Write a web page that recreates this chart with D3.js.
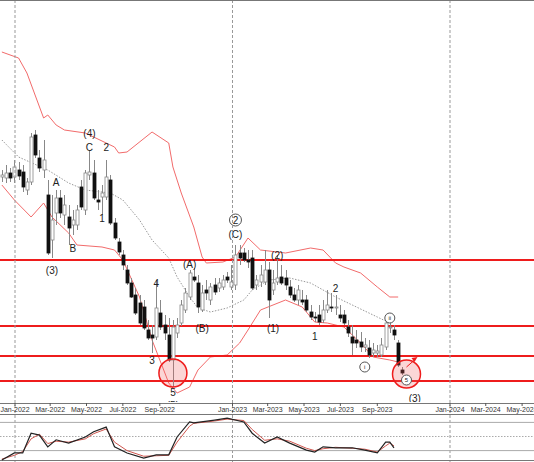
<!DOCTYPE html>
<html>
<head>
<meta charset="utf-8">
<script src="https://cdn.jsdelivr.net/npm/d3@7"></script>
<style>
body { margin: 0; background: #fff; }
text { font-family: "Liberation Sans", Arial, sans-serif; }
</style>
</head>
<body>
<div id="chart"></div>
<script>
// weekly candles [open, high, low, close], first bar dated 2021-12-10
var candles = [
	[111.5,115,109,112.5],[111,117.5,108.5,113.5],[113.5,116,109,111],[111.5,120,108.5,116.5],
	[115,119,110,112],[114,117.5,104,106.5],[105,111,102.5,109],[109,133.5,107.5,131.5],
	[132.5,135,121,122.5],[121,125,114,116],[115,130,111,120],[102.5,110,72.5,73.5],
	[80,102.5,71,90],[93.5,105,87.5,101],[101,105,91,93.5],[92.5,102.5,87.5,97.5],
	[91.5,97.5,77.5,86],[87.5,95,82.5,90],[87.5,97.5,85,95],[106.5,110,95,96.5],
	[95,115,92.5,113.5],[112.5,125,110,114],[113.5,120,100,101],[100,105,95,99],
	[101.5,107.5,92.5,103.5],[101.5,120,100,111.5],[110,112.5,87.5,88.5],[88.5,91,80,81],
	[79,81,72.5,74],[72.5,75,65,67.5],[65,67.5,57.5,58.5],[58.5,61,51,51.5],
	[52.5,56,42.5,43.5],[48.5,52.5,37.5,38.5],[46.5,50,35,36],[35,40,30,31],
	[32.5,37.5,23.5,31],[31.5,60,30,46],[43.5,50,35,36.5],[37.5,42.5,30,33.5],
	[32.5,41,19,20],[20,40,6.5,36.5],[33.5,41,31,37.5],[38.5,50,37,47.5],
	[45,56,43.5,53.5],[51.5,65,50,63.5],[61.5,66,59,60],[58.5,62.5,43.5,46.5],
	[45,57.5,44,53.5],[55,60,50,53.5],[50,58.5,47.5,56.5],[57.5,61,52.5,54],
	[56,61,54,58.5],[56.5,62.5,55,60],[61.5,64,58.5,60],[56.5,67.5,55,59],
	[57.5,77.5,55,72.5],[73.5,77.5,67.5,71],[73.5,76,69,70],[70,75,66,69],
	[71,75,55,56],[57.5,62.5,55,60],[59,67.5,56.5,62.5],[59,75,57.5,65],
	[65,69,41,50],[55,65,52.5,58.5],[59,72.5,57.5,61],[61.5,67.5,57.5,58.5],
	[61,65,55,57.5],[56.5,60,51,52.5],[52.5,56,49,50],[50,57.5,47.5,55],
	[50,55,47.5,49],[50,52.5,44,45],[44,47.5,40,41.5],[41.5,44,39,41],
	[42.5,47.5,37.5,39],[40,50,38.5,45],[45,55,43.5,47.5],[46.5,53.5,44,46],
	[46,52.5,42.5,46.5],[42.5,47.5,39,41],[42.5,45,37.5,38.5],[36.5,40,31.5,33.5],
	[31.5,37.5,22.5,28.5],[30,35,26,28.5],[29,34,24,26.5],[26.5,31,24,27.5],
	[26,30,21,22.5],[23.5,28.5,21.5,25],[23.5,27.5,21.5,24.5],[22.5,31,21.5,27.5],
	[26.5,41,25,38.5],[36,40,33.5,36.5],[35,37.5,30,32.5],[28.5,30,16.5,17.5],
	[15,16.5,12.5,13.5],[10,12.5,8.5,11.5]
];

// bollinger bands as [week index, value]
var upperBand = [[0,174],[4,171],[6,163.5],[10,141],[11,142.5],[13,137.5],[15,135],[20,133.5],[27,126.5],[28,123.5],[30,124],[36,134],[40,128.5],[41,116.5],[43,103.5],[46,86.5],[48,71.5],[49,68.5],[53,69],[56,71.5],[59,81],[62,75],[68,73.5],[74,76],[77,75],[80,68.5],[82,66.5],[86,63.5],[90,56.5],[93,51.5],[95,51.5]];
var middleBand = [[0,130],[4,121.5],[11,115],[16,108.5],[20,105],[26,103.5],[29,100],[33,90],[36,80],[40,71],[42,61.5],[45,51.5],[47,46],[50,44],[54,46],[58,50],[60,55],[64,60],[69,61],[74,58.5],[80,51.5],[85,46.5],[90,41.5],[93,38.5]];
var lowerBand = [[0,107.5],[3,100],[7,91.5],[10,98.5],[12,91.5],[16,83.5],[18,77.5],[24,76.5],[27,75],[29,70],[33,51.5],[36,30],[40,8.5],[42,3.5],[45,6.5],[47,15],[50,21.5],[54,22.5],[57,28.5],[59,35],[62,45],[68,50],[72,46.5],[75,39],[78,38.5],[82,36.5],[86,28.5],[89,21.5],[93,20],[95,19]];

var levels = [70, 37, 22, 9.5];

// wave labels [text, week index, price]
var waveLabels = [
	['(3)',12,65],['A',13,109],['B',17,76],['(4)',21,133.5],['C',21,126.5],['2',25,126.5],['1',24,91],
	['4',37,58.5],['3',36,20],['5',41,4],['(5)',41,-2.5],['(A)',45,68],['(B)',48,36],
	['(C)',56,83],['(2)',66,72.5],['(1)',65,36],['2',80,56],['1',75,32],['(3)',99,1]
];
var circledLabels = [['2',56,90],['i',87,16.5],['ii',93,41],['5',97,10]];
var highlights = [[41,13.5],[97,13]];

// oscillator [week index, value]
var oscMain = [[0,0],[3,15],[5,15],[7,57],[9,53],[11,28],[13,43],[16,36],[20,49],[22,60],[25,70],[27,28],[30,15],[34,4],[37,11],[40,11],[42,49],[45,81],[46,79],[51,85],[54,89],[58,81],[60,57],[63,36],[66,49],[69,36],[73,21],[75,17],[77,28],[80,26],[84,26],[87,21],[90,15],[92,38],[93,38],[94,26]];
var oscSignal = [[0,2],[3,10],[5,18],[7,45],[9,55],[11,35],[13,40],[16,38],[20,45],[22,56],[25,66],[27,38],[30,20],[34,8],[37,9],[40,10],[42,38],[45,72],[46,78],[51,83],[54,87],[58,84],[60,65],[63,42],[66,45],[69,40],[73,25],[75,20],[77,24],[80,27],[84,25],[87,23],[90,17],[92,30],[93,36],[94,30]];
var oscLevels = [80, 20];
var tickLabels = ['Jan-2022','Mar-2022','May-2022','Jul-2022','Sep-2022','Jan-2023','Mar-2023','May-2023','Jul-2023','Sep-2023','Jan-2024','Mar-2024','May-2024'];

var W = 534, H = 462;
var svg = d3.select('#chart').append('svg').attr('width', W).attr('height', H);
var parse = d3.timeParse('%b-%Y');
var start = new Date(2021, 11, 10);
function wk(i) { return d3.timeDay.offset(start, i * 7); }

var x = d3.scaleTime().domain([new Date(2022, 0, 1), new Date(2024, 0, 1)]).range([15, 450]);
var y = d3.scaleLinear().domain([0, 200]).range([400, 0]);
var yo = d3.scaleLinear().domain([0, 100]).range([460, 413]);

svg.append('clipPath').attr('id', 'mainclip').append('rect').attr('width', W).attr('height', 402);
var main = svg.append('g').attr('clip-path', 'url(#mainclip)');

// vertical year grid
[new Date(2022,0,1), new Date(2023,0,1), new Date(2024,0,1)].forEach(function(d) {
	svg.append('line').attr('x1', x(d)).attr('x2', x(d)).attr('y1', 0).attr('y2', H)
		.attr('stroke', '#999').attr('stroke-dasharray', '3,2');
});
svg.append('line').attr('x1', 0).attr('x2', W).attr('y1', 0.5).attr('y2', 0.5).attr('stroke', '#777');

// bands
var bandLine = d3.line().x(function(d) { return x(wk(d[0])); }).y(function(d) { return y(d[1]); });
main.append('path').attr('d', bandLine(upperBand)).attr('fill', 'none').attr('stroke', '#f26b6b').attr('stroke-width', 1);
main.append('path').attr('d', bandLine(lowerBand)).attr('fill', 'none').attr('stroke', '#f26b6b').attr('stroke-width', 1);
main.append('path').attr('d', bandLine(middleBand)).attr('fill', 'none').attr('stroke', '#999').attr('stroke-dasharray', '1.5,1.5');

// levels
levels.forEach(function(v) {
	main.append('line').attr('x1', 0).attr('x2', W).attr('y1', y(v)).attr('y2', y(v))
		.attr('stroke', '#ee1c1c').attr('stroke-width', 2);
});

// candles
var c = main.append('g').selectAll('g').data(candles).enter().append('g');
c.append('line')
	.attr('x1', function(d, i) { return Math.round(x(wk(i))) + 0.5; })
	.attr('x2', function(d, i) { return Math.round(x(wk(i))) + 0.5; })
	.attr('y1', function(d) { return y(d[1]); })
	.attr('y2', function(d) { return y(d[2]); })
	.attr('stroke', '#888');
c.append('rect')
	.attr('x', function(d, i) { return Math.round(x(wk(i))) - 1; })
	.attr('width', 3)
	.attr('y', function(d) { return y(Math.max(d[0], d[3])); })
	.attr('height', function(d) { return Math.max(1, Math.abs(y(d[0]) - y(d[3]))); })
	.attr('fill', function(d) { return d[3] < d[0] ? '#111' : '#fff'; })
	.attr('stroke', function(d) { return d[3] < d[0] ? '#111' : '#888'; })
	.attr('stroke-width', 0.8);

// highlight circles
highlights.forEach(function(h) {
	main.append('circle').attr('cx', x(wk(h[0]))).attr('cy', y(h[1])).attr('r', 14)
		.attr('fill', 'rgba(240,90,90,0.25)').attr('stroke', '#ee1c1c').attr('stroke-width', 1.5);
});
// arrow
var ax = x(wk(97)), ay = y(16.5);
main.append('line').attr('x1', ax).attr('y1', ay).attr('x2', ax + 8).attr('y2', ay - 7).attr('stroke', '#ee1c1c');
main.append('path').attr('d', 'M' + (ax + 11) + ',' + (ay - 10) + 'l-6,1l3,4z').attr('fill', '#ee1c1c');

// labels
main.selectAll('.wl').data(waveLabels).enter().append('text')
	.attr('x', function(d) { return x(wk(d[1])); })
	.attr('y', function(d) { return y(d[2]); })
	.attr('text-anchor', 'middle').attr('dy', '0.35em')
	.attr('font-size', 10).attr('fill', '#222').text(function(d) { return d[0]; });
var cl = main.selectAll('.cl').data(circledLabels).enter().append('g')
	.attr('transform', function(d) { return 'translate(' + x(wk(d[1])) + ',' + y(d[2]) + ')'; });
cl.append('circle').attr('r', function(d) { return d[0] === '2' ? 6 : 5; })
	.attr('fill', '#fff').attr('stroke', '#555');
cl.append('text').attr('text-anchor', 'middle').attr('dy', '0.35em')
	.attr('font-size', function(d) { return d[0] === '2' ? 10 : 6; }).attr('fill', '#222')
	.text(function(d) { return d[0]; });

// x axis labels
svg.append('line').attr('x1', 0).attr('x2', W).attr('y1', 403.5).attr('y2', 403.5).attr('stroke', '#777');
svg.append('line').attr('x1', 0).attr('x2', W).attr('y1', 414.5).attr('y2', 414.5).attr('stroke', '#777');
tickLabels.forEach(function(t) {
	var px = x(parse(t));
	svg.append('line').attr('x1', px).attr('x2', px).attr('y1', 403).attr('y2', 406).attr('stroke', '#555');
	svg.append('text').attr('x', px).attr('y', 412).attr('text-anchor', 'middle')
		.attr('font-size', 7).attr('fill', '#333').text(t);
});

// oscillator
oscLevels.forEach(function(v) {
	svg.append('line').attr('x1', 0).attr('x2', W).attr('y1', yo(v)).attr('y2', yo(v)).attr('stroke', '#aaa');
});
svg.append('line').attr('x1', 0).attr('x2', W).attr('y1', yo(50)).attr('y2', yo(50)).attr('stroke', '#aaa').attr('stroke-dasharray', '1.5,1.5');
svg.append('line').attr('x1', 0).attr('x2', W).attr('y1', 460.5).attr('y2', 460.5).attr('stroke', '#777');
var oscLine = d3.line().x(function(d) { return x(wk(d[0])); }).y(function(d) { return yo(d[1]); });
svg.append('path').attr('d', oscLine(oscSignal)).attr('fill', 'none').attr('stroke', '#d0574f').attr('stroke-width', 1);
svg.append('path').attr('d', oscLine(oscMain)).attr('fill', 'none').attr('stroke', '#222').attr('stroke-width', 1.2);
</script>
</body>
</html>
